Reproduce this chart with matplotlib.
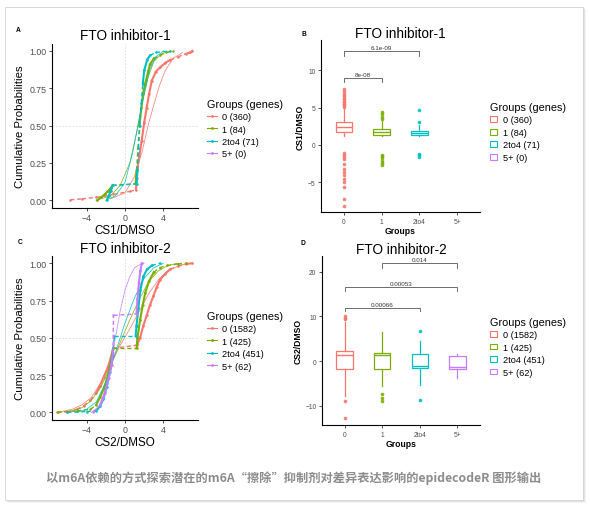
import matplotlib
matplotlib.use("Agg")
import matplotlib.pyplot as plt
from matplotlib.lines import Line2D
from matplotlib.patches import Patch, Rectangle

plt.rcParams['font.family'] = ['Liberation Sans', 'DejaVu Sans']

W, H = 590, 506

groups = ['0', '1', '2to4', '5+']
colors = ['#F8766D', '#7CAE00', '#00BFC4', '#C77CFF']
counts_1 = [360, 84, 71, 0]
counts_2 = [1582, 425, 451, 62]

# ECDF curves: (x, cumulative probability)
ecdf_1 = {
    '0': [(-5.7, 0.003), (-4.5, 0.01), (-3.0, 0.02), (-1.8, 0.03), (-1.2, 0.04), (0.5, 0.06),
          (1.15, 0.07), (1.2, 0.15), (1.3, 0.22), (1.5, 0.30), (1.74, 0.40), (2.0, 0.52),
          (2.26, 0.62), (2.5, 0.71), (2.78, 0.80), (3.2, 0.86), (3.65, 0.89), (4.2, 0.92),
          (4.7, 0.94), (5.5, 0.96), (6.3, 0.98), (6.8, 0.99), (7.0, 1.0)],
    '1': [(-2.9, 0.0), (-2.5, 0.02), (-2.1, 0.04), (-1.8, 0.06), (-1.5, 0.08), (-1.3, 0.10),
          (1.1, 0.11), (1.2, 0.20), (1.35, 0.35), (1.5, 0.50), (1.7, 0.62), (1.9, 0.72),
          (2.1, 0.78), (2.4, 0.86), (2.6, 0.91), (3.0, 0.95), (3.6, 0.97), (4.3, 0.99), (5.0, 1.0)],
    '2to4': [(-1.9, 0.0), (-1.7, 0.03), (-1.5, 0.06), (-1.3, 0.10), (1.2, 0.11), (1.3, 0.20),
             (1.4, 0.35), (1.55, 0.50), (1.7, 0.65), (1.85, 0.78), (2.0, 0.87), (2.3, 0.94),
             (2.6, 0.97), (3.2, 0.99), (4.7, 1.0)],
}
smooth_1 = {
    '0': [(-1.5, 0.01), (0.0, 0.05), (1.0, 0.16), (1.8, 0.33), (2.4, 0.50), (3.0, 0.64),
          (3.6, 0.77), (4.2, 0.87), (5.0, 0.95), (6.0, 0.99)],
    '1': [(-3.0, 0.0), (-1.5, 0.03), (-0.5, 0.10), (0.5, 0.25), (1.2, 0.45), (1.8, 0.65),
          (2.4, 0.82), (3.0, 0.93), (3.8, 0.98), (4.8, 1.0)],
    '2to4': [(-2.0, 0.0), (-1.0, 0.03), (0.0, 0.12), (0.8, 0.32), (1.4, 0.52), (2.0, 0.72),
             (2.6, 0.88), (3.2, 0.96), (4.0, 1.0)],
}
ecdf_2 = {
    '0': [(-7.1, 0.0), (-6.0, 0.005), (-5.0, 0.02), (-4.3, 0.045), (-3.6, 0.08), (-3.0, 0.13),
          (-2.6, 0.18), (-2.2, 0.24), (-1.8, 0.30), (-1.5, 0.36), (-1.25, 0.43), (1.2, 0.45),
          (1.3, 0.46), (1.57, 0.50), (1.9, 0.58), (2.26, 0.65), (2.6, 0.72), (2.96, 0.78),
          (3.3, 0.84), (3.65, 0.89), (4.2, 0.93), (4.7, 0.96), (5.5, 0.98), (6.4, 0.995), (7.0, 1.0)],
    '1': [(-7.0, 0.0), (-5.0, 0.01), (-3.6, 0.02), (-3.0, 0.05), (-2.6, 0.10), (-2.2, 0.16),
          (-1.9, 0.22), (-1.6, 0.30), (-1.35, 0.38), (-1.2, 0.43), (1.2, 0.43), (1.3, 0.50),
          (1.57, 0.62), (1.85, 0.72), (2.1, 0.80), (2.5, 0.88), (3.0, 0.94), (3.6, 0.97),
          (4.35, 0.985), (5.5, 0.995), (6.4, 1.0)],
    '2to4': [(-6.0, 0.0), (-4.0, 0.005), (-3.0, 0.01), (-2.6, 0.04), (-2.26, 0.09), (-1.9, 0.17),
             (-1.57, 0.27), (-1.3, 0.38), (-1.1, 0.51), (1.1, 0.51), (1.2, 0.58), (1.39, 0.70),
             (1.6, 0.82), (1.9, 0.91), (2.3, 0.96), (2.8, 0.985), (3.65, 1.0)],
    '5+': [(-3.3, 0.0), (-2.6, 0.05), (-2.1, 0.13), (-1.7, 0.23), (-1.4, 0.32), (-1.25, 0.40),
           (-1.2, 0.65), (1.2, 0.66), (1.3, 0.76), (1.45, 0.87), (1.6, 0.95), (1.75, 1.0)],
}
smooth_2 = {
    '0': [(-7.0, 0.0), (-5.5, 0.02), (-4.5, 0.05), (-3.5, 0.10), (-2.5, 0.20), (-1.5, 0.32),
          (-0.5, 0.45), (0.5, 0.56), (1.5, 0.68), (2.5, 0.80), (3.5, 0.89), (4.5, 0.95),
          (5.5, 0.98), (6.5, 1.0)],
    '1': [(-6.0, 0.0), (-4.5, 0.03), (-3.5, 0.08), (-2.5, 0.17), (-1.5, 0.31), (-0.5, 0.47),
          (0.5, 0.62), (1.5, 0.76), (2.5, 0.88), (3.5, 0.95), (4.5, 0.985), (5.5, 1.0)],
    '2to4': [(-5.0, 0.0), (-4.0, 0.02), (-3.0, 0.07), (-2.0, 0.20), (-1.0, 0.40), (0.0, 0.60),
             (1.0, 0.77), (2.0, 0.90), (3.0, 0.97), (4.0, 1.0)],
    '5+': [(-3.5, 0.0), (-2.5, 0.05), (-2.0, 0.13), (-1.5, 0.30), (-1.0, 0.50), (-0.5, 0.68),
           (0.0, 0.82), (0.5, 0.91), (1.0, 0.97), (1.5, 0.99), (2.0, 1.0)],
}

# boxplot summaries
box_1 = {
    '0': dict(med=2.35, q1=1.7, q3=3.0, whislo=1.2, whishi=4.9,
              fliers=[5.1, 5.3, 5.5, 5.7, 5.9, 6.1, 6.3, 6.5, 6.7, 6.9, 7.2, 7.5,
                      -1.1, -1.3, -1.6, -1.9, -2.6, -3.3, -3.6, -4.0, -4.6, -5.0, -5.6, -7.2, -8.2]),
    '1': dict(med=1.7, q1=1.34, q3=2.14, whislo=1.2, whishi=3.2,
              fliers=[3.5, 3.8, 4.1, 4.4, -1.3, -1.5, -1.8, -2.1, -2.4, -2.7]),
    '2to4': dict(med=1.55, q1=1.34, q3=1.92, whislo=1.2, whishi=2.6,
                 fliers=[3.0, 4.7, -1.2, -1.4, -1.6]),
}
box_2 = {
    '0': dict(med=1.3, q1=-1.8, q3=2.3, whislo=-7.8, whishi=8.8,
              fliers=[9.3, 9.7, 10.1, -8.9, -12.8]),
    '1': dict(med=1.3, q1=-1.8, q3=1.9, whislo=-5.5, whishi=6.4,
              fliers=[-7.4, -8.2, -8.9]),
    '2to4': dict(med=-1.0, q1=-1.5, q3=1.6, whislo=-5.3, whishi=4.5,
                 fliers=[6.7, -8.8]),
    '5+': dict(med=-1.3, q1=-1.8, q3=1.2, whislo=-3.7, whishi=1.6, fliers=[]),
}
# significance brackets: (group a, group b, height, label)
sig_1 = [('0', '1', 9.0, '8e-08'), ('0', '2to4', 12.6, '6.1e-09')]
sig_2 = [('0', '2to4', 11.9, '0.00066'), ('0', '5+', 16.6, '0.00053'), ('1', '5+', 21.9, '0.014')]

caption = '以m6A依赖的方式探索潜在的m6A“擦除”抑制剂对差异表达影响的epidecodeR 图形输出'


def fr(x0, y0, x1, y1):
    return [x0 / W, 1 - y1 / H, (x1 - x0) / W, (y1 - y0) / H]


def style_axes(ax, tick_size):
    for s in ['top', 'right']:
        ax.spines[s].set_visible(False)
    for s in ['left', 'bottom']:
        ax.spines[s].set_linewidth(0.8)
        ax.spines[s].set_color('black')
    ax.tick_params(length=2.5, width=0.6, color='#333333', labelsize=tick_size,
                   labelcolor='#4d4d4d', pad=1.5)


def ecdf_panel(ax, curves, smooths, counts, title, xlabel):
    ax.axvline(0, color='#d9d9d9', lw=0.6, ls=(0, (2, 2)), zorder=0)
    ax.axhline(0.5, color='#d9d9d9', lw=0.6, ls=(0, (2, 2)), zorder=0)
    for g, c in zip(groups, colors):
        if g in smooths:
            sx, sp = zip(*smooths[g])
            ax.plot(sx, sp, color=c, lw=0.6, alpha=0.85)
        if g in curves:
            pts = curves[g]
            for (x0, p0), (x1, p1) in zip(pts[:-1], pts[1:]):
                sparse = (x1 - x0) > 0.6 or (p1 - p0) > 0.12
                ax.plot([x0, x1], [p0, p1], color=c, lw=1.0 if sparse else 1.5,
                        ls=(0, (3, 2)) if sparse else '-')
            xs, ps = zip(*pts)
            ax.plot(xs, ps, 'o', color=c, ms=1.8, mew=0)
    ax.set_xlim(-7.6, 7.6)
    ax.set_ylim(-0.05, 1.05)
    ax.set_xticks([-4, 0, 4])
    ax.set_yticks([0, 0.25, 0.5, 0.75, 1.0])
    ax.set_yticklabels(['0.00', '0.25', '0.50', '0.75', '1.00'])
    style_axes(ax, 6.3)
    ax.set_title(title, fontsize=9.8, pad=3)
    ax.set_xlabel(xlabel, fontsize=8.4, labelpad=1)
    ax.set_ylabel('Cumulative Probabilities', fontsize=8.2, labelpad=3)
    handles = [Line2D([], [], color=c, lw=0.8, marker='o', ms=2, mew=0) for c in colors]
    labels = [f'{g} ({n})' for g, n in zip(groups, counts)]
    ax.legend(handles, labels, title='Groups (genes)', loc='upper left',
              bbox_to_anchor=(1.065, 0.665), frameon=False, fontsize=6.6,
              title_fontsize=7.8, borderpad=0, borderaxespad=0, handlelength=1.0,
              handletextpad=0.6, labelspacing=0.38, alignment='left')


def box_panel(ax, boxes, sigs, counts, title, ylabel):
    pos = {g: i + 1 for i, g in enumerate(groups)}
    for g, c in zip(groups, colors):
        if g not in boxes:
            continue
        st = dict(boxes[g])
        st['label'] = g
        ax.bxp([st], positions=[pos[g]], widths=0.43, showcaps=False, patch_artist=True,
               boxprops=dict(facecolor='white', edgecolor=c, lw=0.9),
               medianprops=dict(color=c, lw=1.0),
               whiskerprops=dict(color=c, lw=0.9),
               flierprops=dict(marker='o', markerfacecolor=c, markeredgecolor='none',
                               markersize=2.6, alpha=0.9))
    for a, b, h, lab in sigs:
        xa, xb = pos[a], pos[b]
        ax.plot([xa, xa, xb, xb], [h - 0.6 * abs(h) / 12 - 0.1, h, h, h - 0.6 * abs(h) / 12 - 0.1],
                color='#555555', lw=0.6)
        ax.text((xa + xb) / 2, h + 0.15, lab, ha='center', va='bottom', fontsize=4.5,
                color='#333333')
    ax.set_xlim(0.4, 4.6)
    ax.set_xticks([1, 2, 3, 4])
    ax.set_xticklabels(groups)
    style_axes(ax, 4.8)
    ax.set_title(title, fontsize=9.8, pad=2)
    ax.set_xlabel('Groups', fontsize=6.2, fontweight='bold', labelpad=1)
    ax.set_ylabel(ylabel, fontsize=6.2, fontweight='bold', labelpad=2)
    handles = [Patch(facecolor='white', edgecolor=c, lw=0.8) for c in colors]
    labels = [f'{g} ({n})' for g, n in zip(groups, counts)]
    ax.legend(handles, labels, title='Groups (genes)', loc='upper left',
              bbox_to_anchor=(1.063, 0.64), frameon=False, fontsize=6.6,
              title_fontsize=7.8, borderpad=0, borderaxespad=0, handlelength=0.8,
              handleheight=0.6, handletextpad=0.6, labelspacing=0.38, alignment='left')


fig = plt.figure(figsize=(W / 100, H / 100), dpi=100)
fig.patch.set_facecolor('white')

# card with soft shadow
for i, a in enumerate([0.10, 0.07, 0.04]):
    fig.patches.append(Rectangle(((6 + i) / W, 1 - (502 + i) / H), 578 / W, 494 / H,
                                 transform=fig.transFigure, facecolor='black', alpha=a,
                                 edgecolor='none', zorder=-3))
fig.patches.append(Rectangle((5 / W, 1 - 501 / H), 578 / W, 493 / H,
                             transform=fig.transFigure, facecolor='white',
                             edgecolor='#d4d4d4', lw=0.6, zorder=-2))

axA = fig.add_axes(fr(52, 44.5, 198, 208.8))
axB = fig.add_axes(fr(321, 41, 480, 213))
axC = fig.add_axes(fr(52, 256.8, 198, 420.8))
axD = fig.add_axes(fr(322, 257, 480, 426))

ecdf_panel(axA, ecdf_1, smooth_1, counts_1, 'FTO inhibitor-1', 'CS1/DMSO')
ecdf_panel(axC, ecdf_2, smooth_2, counts_2, 'FTO inhibitor-2', 'CS2/DMSO')
box_panel(axB, box_1, sig_1, counts_1, 'FTO inhibitor-1', 'CS1/DMSO')
box_panel(axD, box_2, sig_2, counts_2, 'FTO inhibitor-2', 'CS2/DMSO')
axB.set_ylim(-9.0, 14.06)
axB.set_yticks([-5, 0, 5, 10])
axD.set_ylim(-14.3, 23.5)
axD.set_yticks([-10, 0, 10, 20])

for lab, x, y in [('A', 18, 31), ('B', 304, 34), ('C', 20, 243), ('D', 303, 244)]:
    fig.text(x / W, 1 - y / H, lab, fontsize=4.8, fontweight='bold', ha='center', va='center')

fig.text(294 / W, 1 - 478 / H, caption, ha='center', va='center', fontsize=8.8,
         fontweight='bold', color='#8c8c8c', family=['Noto Sans CJK SC', 'DejaVu Sans'])

fig.savefig('out.png', dpi=100)
